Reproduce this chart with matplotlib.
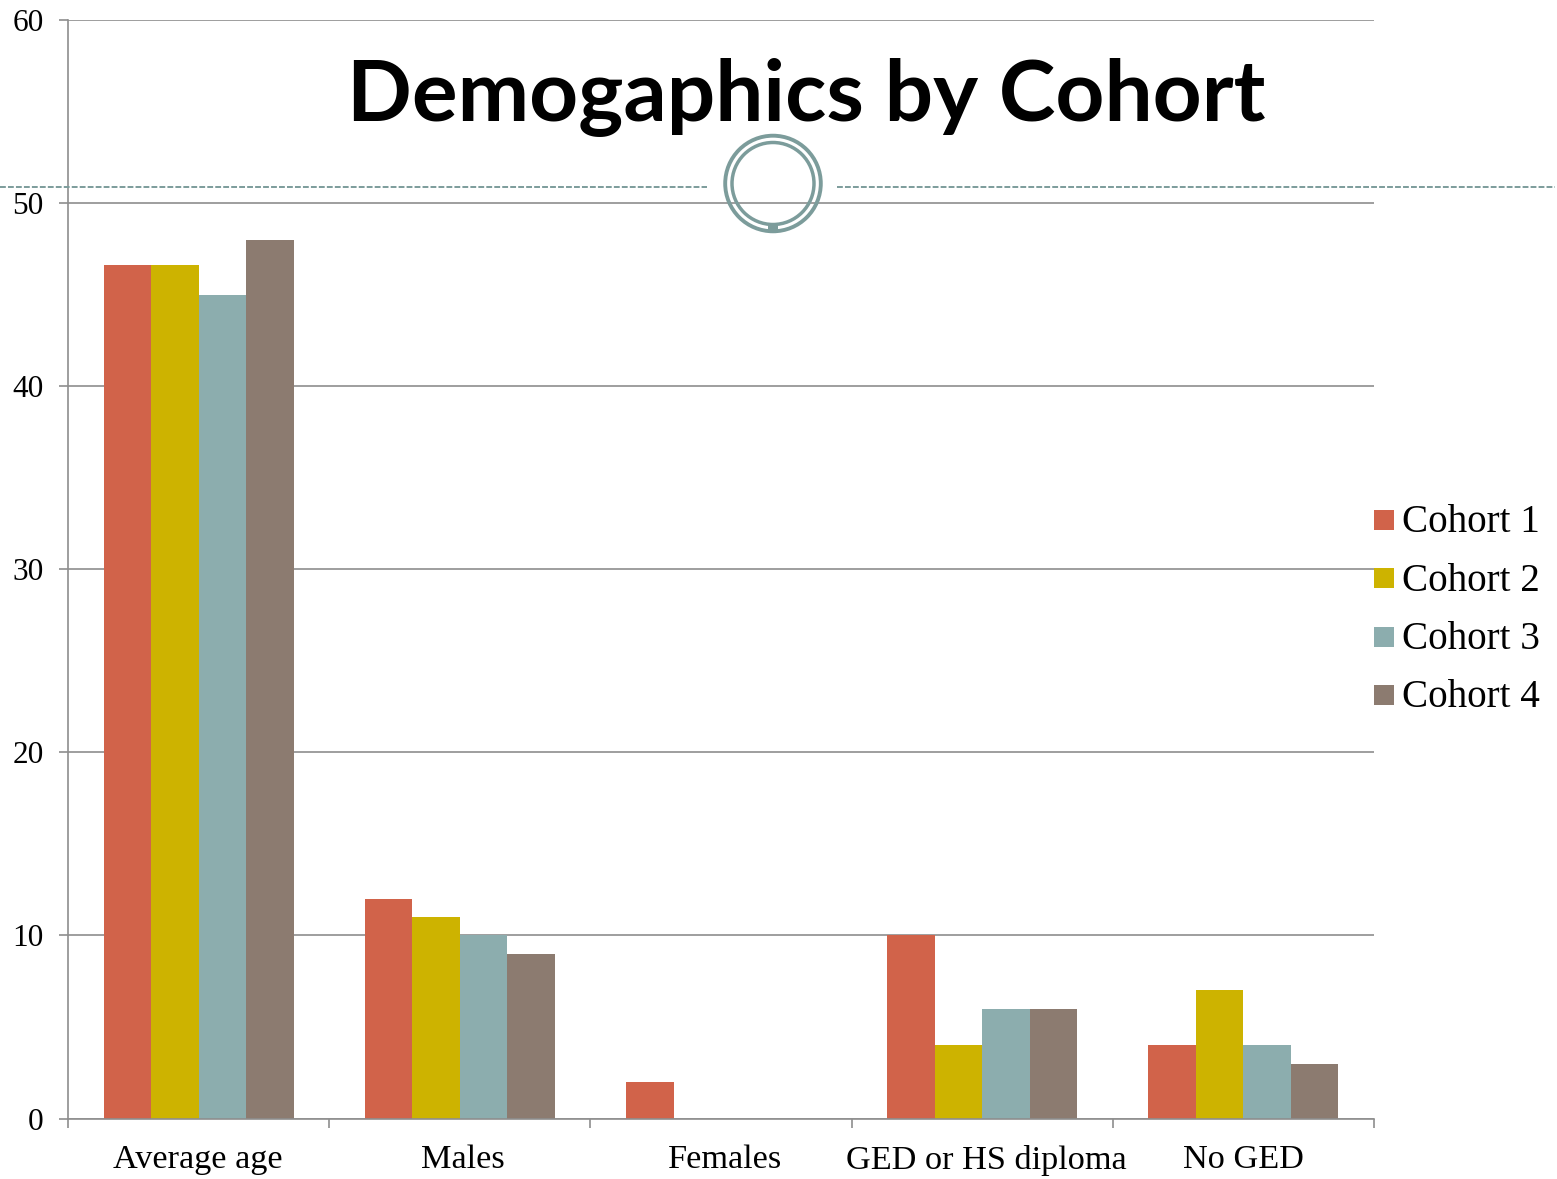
import matplotlib
matplotlib.use('Agg')
import matplotlib.pyplot as plt
from matplotlib.patches import Circle, Rectangle
import numpy as np

categories = ['Average age', 'Males', 'Females', 'GED or HS diploma', 'No GED']
series = ['Cohort 1', 'Cohort 2', 'Cohort 3', 'Cohort 4']
cohort1 = [46.6, 12, 2, 10, 4]
cohort2 = [46.6, 11, 0, 4, 7]
cohort3 = [45, 10, 0, 6, 4]
cohort4 = [48, 9, 0, 6, 3]
colors = ['#D1634A', '#CDB300', '#8CADAE', '#8C7B70']
yticks = [0, 10, 20, 30, 40, 50, 60]
plt.rcParams['font.family'] = ['Liberation Serif', 'DejaVu Serif']

W, H = 1557, 1179
fig = plt.figure(figsize=(W/100, H/100), dpi=100)
L, R, T, B = 68, 1374, 20, 1118.5
ax = fig.add_axes([L/W, 1-B/H, (R-L)/W, (B-T)/H])
ax.set_xlim(0, 5); ax.set_ylim(0, 60)
ax.set_axisbelow(True)
axis_col = '#8E8E8E'
ax.yaxis.grid(True, color=axis_col, lw=1.2)
ax.xaxis.grid(False)
for s in ['top', 'right']:
    ax.spines[s].set_visible(False)
for s in ['left', 'bottom']:
    ax.spines[s].set_color(axis_col); ax.spines[s].set_linewidth(1.2)
w = 47.5/261.2
x = np.arange(5) + 0.5
for i, vals in enumerate([cohort1, cohort2, cohort3, cohort4]):
    ax.bar(x + (i-1.5)*w, vals, w, color=colors[i], label=series[i], linewidth=0)
ax.set_yticks(yticks)
ax.set_xticks(range(6))
ax.set_xticklabels([])
ax.tick_params(axis='both', color=axis_col, width=1.2, length=6.5)
ax.tick_params(axis='y', direction='out', labelsize=22.5, pad=11, left=True)
ax.tick_params(axis='x', direction='out')
for c, cx in zip(categories, [198, 463, 725, 986, 1243]):
    fig.text(cx/W, 1-1160/H, c, ha='center', va='center', fontsize=24.7, color='black')

# legend
for i, s in enumerate(series):
    yc = 520 + i*58.3
    fig.add_artist(Rectangle((1374/W, 1-(yc+10)/H), 20/W, 20/H, color=colors[i], transform=fig.transFigure, lw=0))
    fig.text(1402/W, 1-(yc+3)/H, s, ha='left', va='center', fontsize=28.2, color='black')

# title and decoration
title = fig.text(806/W, 1-97/H, 'Demogaphics by Cohort', ha='center', va='center', fontsize=69.5,
                 fontweight='bold', family=['Lato', 'Liberation Sans', 'DejaVu Sans'], color='black')
rend = fig.canvas.get_renderer()
title.set_fontsize(69.5 * 918 / title.get_window_extent(rend).width)
o = fig.add_axes([0, 0, 1, 1]); o.set_xlim(0, W); o.set_ylim(H, 0); o.axis('off'); o.patch.set_alpha(0)
ring = '#7C9C9B'
o.plot([0, 707], [187, 187], color=ring, lw=1.4, ls=(0, (3, 1.1)))
o.plot([837, 1555], [187, 187], color=ring, lw=1.4, ls=(0, (3, 1.1)))
o.add_patch(Circle((773, 183.5), 47.8, fc='none', ec=ring, lw=2.8))
o.add_patch(Circle((773, 183.5), 41, fc='none', ec=ring, lw=2.5))
o.add_patch(Rectangle((768, 223), 10, 10, fc=ring, ec='none'))
fig.savefig('out.png', dpi=100)
